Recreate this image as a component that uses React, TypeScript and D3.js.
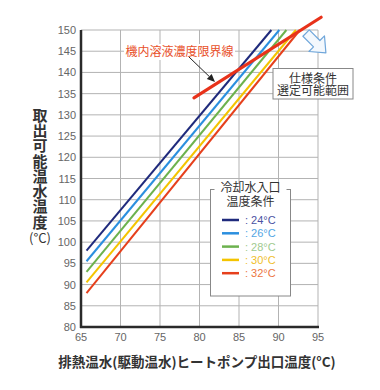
import React from "react";
import * as d3 from "d3";

const xTicks = [65, 70, 75, 80, 85, 90, 95];
const yTicks = [80, 85, 90, 95, 100, 105, 110, 115, 120, 125, 130, 135, 140, 145, 150];
const seriesLabels = ["24°C", "26°C", "28°C", "30°C", "32°C"];
const seriesStartX = [65.7, 65.7, 65.7, 65.7, 65.7];
const seriesStartY = [98, 95.5, 93, 90.5, 88];
const seriesEndX = [89.1, 90.1, 91.0, 92.2, 92.7];
const seriesEndY = [150, 150, 150, 150, 150];
const limitX = [79.3, 95.4];
const limitY = [134, 153];
const seriesColors = ["#1f2a7c", "#2b8fdf", "#6cb24e", "#f4c400", "#e6401c"];
const legendTextColors = ["#4b52a2", "#52a6e4", "#9fcb8f", "#f0c02c", "#ec7643"];
const yTitle = "取出可能温水温度";
const yTitleUnit = "(°C)";
const xTitle = "排熱温水(駆動温水)ヒートポンプ出口温度(°C)";
const limitLabel = "機内溶液濃度限界線";
const specLines = ["仕様条件", "選定可能範囲"];
const legendTitle = ["冷却水入口", "温度条件"];

const NUM_FONT = "'Liberation Sans', Arial, sans-serif";
const JP_FONT = "'Noto Sans CJK JP', 'Noto Sans', sans-serif";

export default function App() {
  const W = 380;
  const H = 390;
  const x = d3.scaleLinear().domain([65, 95]).range([81, 318]);
  const y = d3.scaleLinear().domain([80, 150]).range([327, 30]);
  const line = d3
    .line<[number, number]>()
    .x((d) => x(d[0]))
    .y((d) => y(d[1]));

  // arrow annotation
  const ax1 = 189, ay1 = 57, ax2 = 215, ay2 = 82;
  const ang = Math.atan2(ay2 - ay1, ax2 - ax1);
  const hl = 8, hw = 3.5;
  const bx = ax2 - hl * Math.cos(ang), by = ay2 - hl * Math.sin(ang);
  const head = `M${ax2},${ay2} L${bx + hw * Math.sin(ang)},${by - hw * Math.cos(ang)} L${bx - hw * Math.sin(ang)},${by + hw * Math.cos(ang)} Z`;

  // block arrow (pointing right, rotated)
  const block = "M-14,-4.5 L1,-4.5 L1,-11 L14,0 L1,11 L1,4.5 L-14,4.5 Z";

  return (
    <svg
      width={W}
      height={H}
      style={{ position: "absolute", left: 0, top: 0, background: "#fff" }}
    >
      <rect x={0} y={0} width={W} height={H} fill="#fff" />
      {/* grid */}
      {yTicks.map((t) => (
        <line key={"gy" + t} x1={x(65)} x2={x(95)} y1={y(t)} y2={y(t)} stroke="#b3b3b3" strokeWidth={1} />
      ))}
      {xTicks.map((t) => (
        <line key={"gx" + t} x1={x(t)} x2={x(t)} y1={y(80)} y2={y(150)} stroke="#b3b3b3" strokeWidth={1} />
      ))}
      {/* series */}
      {seriesLabels.map((s, i) => (
        <path
          key={s}
          d={line([
            [seriesStartX[i], seriesStartY[i]],
            [seriesEndX[i], seriesEndY[i]],
          ]) as string}
          stroke={seriesColors[i]}
          strokeWidth={2}
          fill="none"
        />
      ))}
      {/* limit line */}
      <path
        d={line([
          [limitX[0], limitY[0]],
          [limitX[1], limitY[1]],
        ]) as string}
        stroke="#e8321a"
        strokeWidth={3.2}
        fill="none"
        strokeLinecap="round"
      />
      {/* axes */}
      <line x1={x(65)} x2={x(65)} y1={y(150)} y2={y(80) + 1} stroke="#2a2a2a" strokeWidth={2.5} />
      <line x1={x(65) - 1} x2={x(95) + 1} y1={y(80)} y2={y(80)} stroke="#2a2a2a" strokeWidth={2.5} />
      {yTicks.map((t) => (
        <text key={"ty" + t} x={76} y={y(t) + 4} textAnchor="end" fontSize={11} fill="#666" fontFamily={NUM_FONT}>
          {t}
        </text>
      ))}
      {xTicks.map((t) => (
        <text key={"tx" + t} x={x(t)} y={341} textAnchor="middle" fontSize={11} fill="#666" fontFamily={NUM_FONT}>
          {t}
        </text>
      ))}
      {/* y title (vertical) */}
      <text
        x={40}
        y={107.5}
        fontSize={15}
        fill="#333"
        fontFamily={JP_FONT}
        fontWeight="bold"
        style={{ writingMode: "vertical-rl", letterSpacing: "0.3px" } as React.CSSProperties}
      >
        {yTitle}
      </text>
      <text x={40} y={243} textAnchor="middle" fontSize={13} fill="#333" fontFamily={JP_FONT}>
        {yTitleUnit}
      </text>
      {/* x title */}
      <text x={197} y={367} textAnchor="middle" fontSize={13.5} fill="#333" fontFamily={JP_FONT} fontWeight="bold">
        {xTitle}
      </text>
      {/* limit annotation */}
      <rect x={124} y={44} width={111} height={16} fill="#fff" />
      <text x={179.5} y={56} textAnchor="middle" fontSize={12} fill="#e8502a" fontFamily={JP_FONT}>
        {limitLabel}
      </text>
      <line x1={ax1} y1={ay1} x2={bx} y2={by} stroke="#222" strokeWidth={1} />
      <path d={head} fill="#222" />
      {/* block arrow */}
      <path
        d={block}
        transform="translate(316,43) rotate(45)"
        fill="#f3f8fd"
        stroke="#6fa6da"
        strokeWidth={1.2}
        strokeLinejoin="round"
      />
      {/* spec box */}
      <rect x={273} y={68.5} width={80} height={30.5} fill="#fff" stroke="#888" strokeWidth={1} />
      {specLines.map((s, i) => (
        <text key={s} x={313} y={82.5 + i * 12.5} textAnchor="middle" fontSize={12} fill="#333" fontFamily={JP_FONT}>
          {s}
        </text>
      ))}
      {/* legend */}
      <rect x={210.5} y={189.5} width={80} height={106.5} fill="#fff" stroke="#888" strokeWidth={1} />
      <rect x={214.5} y={184} width={72} height={10} fill="#fff" />
      {legendTitle.map((s, i) => (
        <text key={s} x={250.5} y={191.5 + i * 14.5} textAnchor="middle" fontSize={12} fill="#333" fontFamily={JP_FONT}>
          {s}
        </text>
      ))}
      {seriesLabels.map((s, i) => (
        <g key={"lg" + s}>
          <line x1={222} x2={239} y1={220 + i * 13.3} y2={220 + i * 13.3} stroke={seriesColors[i]} strokeWidth={2.5} />
          <text x={245} y={224 + i * 13.3} fontSize={11} fill={legendTextColors[i]} fontFamily={NUM_FONT}>
            {": " + s}
          </text>
        </g>
      ))}
    </svg>
  );
}
